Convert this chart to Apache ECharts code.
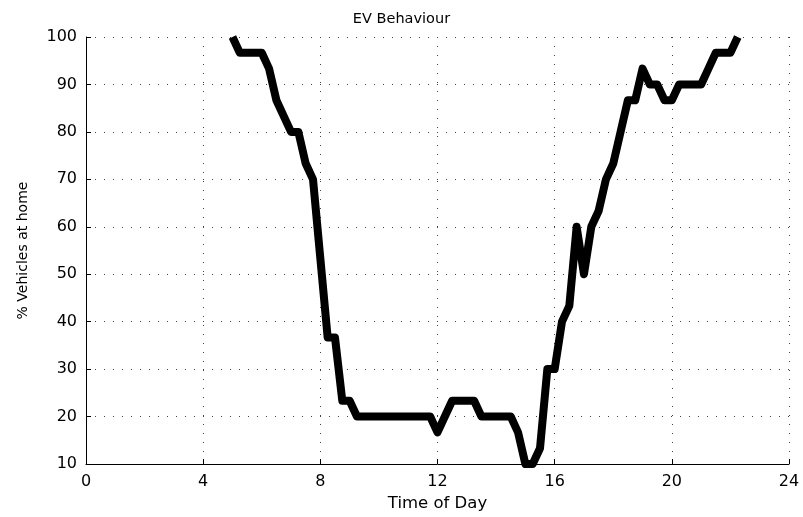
<!DOCTYPE html>
<html>
<head>
<meta charset="utf-8">
<script src="https://cdn.jsdelivr.net/npm/echarts@6/dist/echarts.min.js"></script>
<style>html,body{margin:0;padding:0;background:#fff}#c{width:803px;height:517px}</style>
</head>
<body>
<div id="c"></div>
<script>
const titleText = "EV Behaviour";
const xName = "Time of Day";
const yName = "% Vehicles at home";
const hours = [5, 5.25, 5.5, 5.75, 6, 6.25, 6.5, 6.75, 7, 7.25, 7.5, 7.75, 8, 8.25, 8.5, 8.75, 9, 9.25, 9.5, 9.75,
  10, 10.25, 10.5, 10.75, 11, 11.25, 11.5, 11.75, 12, 12.25, 12.5, 12.75, 13, 13.25, 13.5, 13.75, 14, 14.25, 14.5, 14.75,
  15, 15.25, 15.5, 15.75, 16, 16.25, 16.5, 16.75, 17, 17.25, 17.5, 17.75, 18, 18.25, 18.5, 18.75, 19, 19.25, 19.5, 19.75,
  20, 20.25, 20.5, 20.75, 21, 21.25, 21.5, 21.75, 22, 22.25];
const atHome = [100, 96.67, 96.67, 96.67, 96.67, 93.33, 86.67, 83.33, 80, 80, 73.33, 70, 53.33, 36.67, 36.67, 23.33, 23.33, 20, 20, 20,
  20, 20, 20, 20, 20, 20, 20, 20, 16.67, 20, 23.33, 23.33, 23.33, 23.33, 20, 20, 20, 20, 20, 16.67,
  10, 10, 13.33, 30, 30, 40, 43.33, 60, 50, 60, 63.33, 70, 73.33, 80, 86.67, 86.67, 93.33, 90, 90, 86.67,
  86.67, 90, 90, 90, 90, 93.33, 96.67, 96.67, 96.67, 100];
const xTicks = [0, 4, 8, 12, 16, 20, 24];
const yTicks = [10, 20, 30, 40, 50, 60, 70, 80, 90, 100];

const font = "DejaVu Sans";
const chart = echarts.init(document.getElementById('c'), null, {renderer: 'canvas'});
const dotted = {color: '#444', width: 1, type: [1, 8]};
chart.setOption({
  animation: false,
  backgroundColor: '#fff',
  title: {text: titleText, left: 'center', top: 7, textStyle: {fontFamily: font, fontSize: 14.5, fontWeight: 'normal', color: '#000'}},
  grid: {left: 86, right: 14, top: 37, bottom: 50, containLabel: false},
  xAxis: {
    type: 'value', min: xTicks[0], max: xTicks[xTicks.length - 1], interval: 4,
    name: xName, nameLocation: 'middle', nameGap: 31,
    nameTextStyle: {fontFamily: font, fontSize: 16.5, color: '#000'},
    axisLine: {show: true, lineStyle: {color: '#000', width: 1}},
    axisTick: {show: true, inside: true, length: 5, lineStyle: {color: '#000'}},
    axisLabel: {fontFamily: font, fontSize: 16, color: '#000', margin: 10},
    splitLine: {show: true, showMinLine: false, lineStyle: dotted}
  },
  yAxis: {
    type: 'value', min: yTicks[0], max: yTicks[yTicks.length - 1], interval: 10,
    name: yName, nameLocation: 'middle', nameGap: 56, nameRotate: 90,
    nameTextStyle: {fontFamily: font, fontSize: 14, color: '#000'},
    axisLine: {show: true, lineStyle: {color: '#000', width: 1}},
    axisTick: {show: true, inside: true, length: 5, lineStyle: {color: '#000'}},
    axisLabel: {fontFamily: font, fontSize: 16, color: '#000', margin: 9},
    splitLine: {show: true, showMinLine: false, lineStyle: dotted}
  },
  series: [{
    type: 'line',
    data: hours.map((h, i) => [h, atHome[i]]),
    symbol: 'none',
    clip: true,
    lineStyle: {color: '#000', width: 8, join: 'round', cap: 'butt'}
  }]
});
</script>
</body>
</html>
